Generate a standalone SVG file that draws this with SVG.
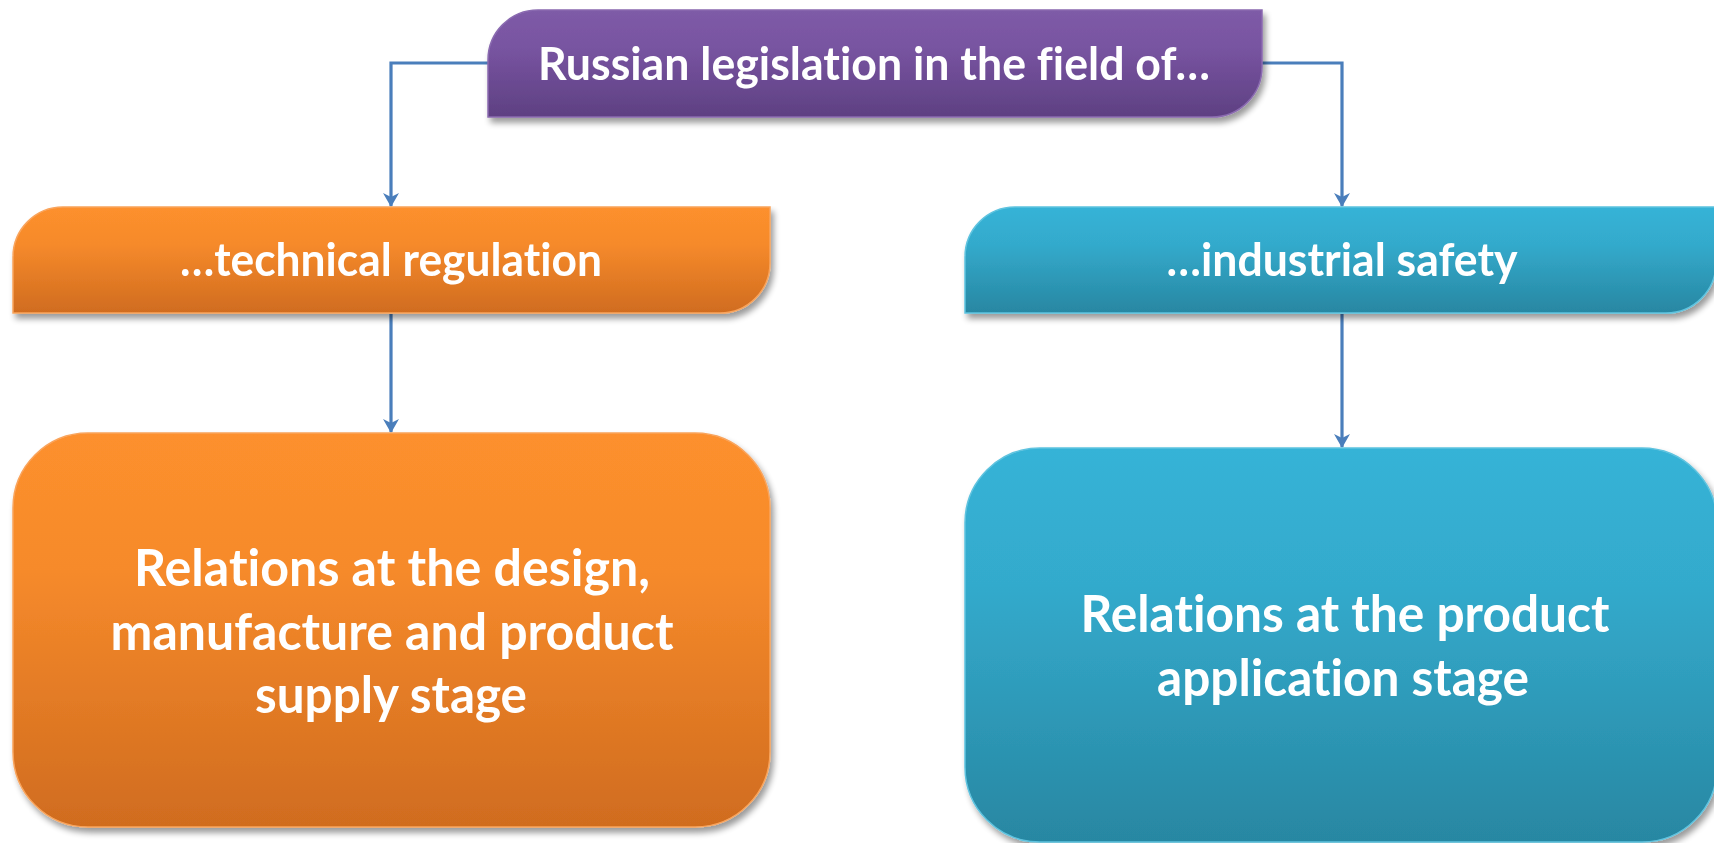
<svg xmlns="http://www.w3.org/2000/svg" width="1714" height="843" viewBox="0 0 1714 843">
  <defs>
    <linearGradient id="gPurple" x1="0" y1="0" x2="0" y2="1">
      <stop offset="0" stop-color="#7e5ba7"/>
      <stop offset="0.35" stop-color="#7854a1"/>
      <stop offset="1" stop-color="#5e4082"/>
    </linearGradient>
    <linearGradient id="gOrange" x1="0" y1="0" x2="0" y2="1">
      <stop offset="0" stop-color="#fd902d"/>
      <stop offset="0.35" stop-color="#f68a2b"/>
      <stop offset="1" stop-color="#d06c1f"/>
    </linearGradient>
    <linearGradient id="gTeal" x1="0" y1="0" x2="0" y2="1">
      <stop offset="0" stop-color="#36b3d7"/>
      <stop offset="0.35" stop-color="#33aacc"/>
      <stop offset="1" stop-color="#2887a2"/>
    </linearGradient>
    <filter id="shadow" x="-5%" y="-5%" width="112%" height="118%">
      <feGaussianBlur in="SourceAlpha" stdDeviation="3"/>
      <feOffset dx="3" dy="5" result="off"/>
      <feComponentTransfer><feFuncA type="linear" slope="0.4"/></feComponentTransfer>
      <feMerge><feMergeNode/><feMergeNode in="SourceGraphic"/></feMerge>
    </filter>
    <marker id="arrow" viewBox="0 0 14 16" refX="13" refY="8" markerWidth="14" markerHeight="16" markerUnits="userSpaceOnUse" orient="auto">
      <path d="M0 0 L14 8 L0 16 L4 8 Z" fill="#4a7ebb"/>
    </marker>
  </defs>
  <style>
    .lbl { font-family: Lato, "Open Sans", "Liberation Sans", sans-serif; font-weight: 700; fill: #ffffff; text-anchor: middle; font-variant-ligatures: none; font-feature-settings: "liga" 0, "clig" 0; }
    .head { font-size: 45px; }
    .big { font-size: 51px; }
    .edge { fill: none; stroke: #4a7ebb; stroke-width: 3.2; marker-end: url(#arrow); }
    .pur { fill: url(#gPurple); stroke: #8a6ab0; stroke-width: 1.5; }
    .ora { fill: url(#gOrange); stroke: #f9a45c; stroke-width: 1.5; }
    .tea { fill: url(#gTeal); stroke: #5ec3df; stroke-width: 1.5; }
  </style>

  <rect width="1714" height="843" fill="#ffffff"/>

  <!-- connectors -->
  <g id="connectors">
    <path class="edge" d="M488 63 H391 V206"/>
    <path class="edge" d="M1262 63 H1342 V206"/>
    <path class="edge" d="M391 314 V432"/>
    <path class="edge" d="M1342 314 V447"/>
  </g>

  <!-- root -->
  <g id="root" filter="url(#shadow)">
    <path class="pur" d="M538 10 H1262 V67 A50 50 0 0 1 1212 117 H488 V60 A50 50 0 0 1 538 10 Z"/>
    <text class="lbl head" x="874" y="80" textLength="672" lengthAdjust="spacingAndGlyphs">Russian legislation in the field of…</text>
  </g>

  <!-- branch headers -->
  <g id="tech-regulation" filter="url(#shadow)">
    <path class="ora" d="M63 207 H770 V263 A50 50 0 0 1 720 313 H13 V257 A50 50 0 0 1 63 207 Z"/>
    <text class="lbl head" x="391" y="276" textLength="422" lengthAdjust="spacingAndGlyphs">…technical regulation</text>
  </g>
  <g id="industrial-safety" filter="url(#shadow)">
    <path class="tea" d="M1015 207 H1716 V263 A50 50 0 0 1 1666 313 H965 V257 A50 50 0 0 1 1015 207 Z"/>
    <text class="lbl head" x="1342" y="276" textLength="351" lengthAdjust="spacingAndGlyphs">…industrial safety</text>
  </g>

  <!-- detail boxes -->
  <g id="design-stage" filter="url(#shadow)">
    <rect class="ora" x="13" y="433" width="757" height="394" rx="75" ry="75"/>
    <text class="lbl big" x="392" y="586" textLength="516" lengthAdjust="spacingAndGlyphs">Relations at the design,</text>
    <text class="lbl big" x="392" y="650" textLength="563" lengthAdjust="spacingAndGlyphs">manufacture and product</text>
    <text class="lbl big" x="391" y="713" textLength="272" lengthAdjust="spacingAndGlyphs">supply stage</text>
  </g>
  <g id="application-stage" filter="url(#shadow)">
    <rect class="tea" x="965" y="448" width="752" height="394" rx="75" ry="75"/>
    <text class="lbl big" x="1345" y="632" textLength="529" lengthAdjust="spacingAndGlyphs">Relations at the product</text>
    <text class="lbl big" x="1343" y="696" textLength="372" lengthAdjust="spacingAndGlyphs">application stage</text>
  </g>
</svg>
